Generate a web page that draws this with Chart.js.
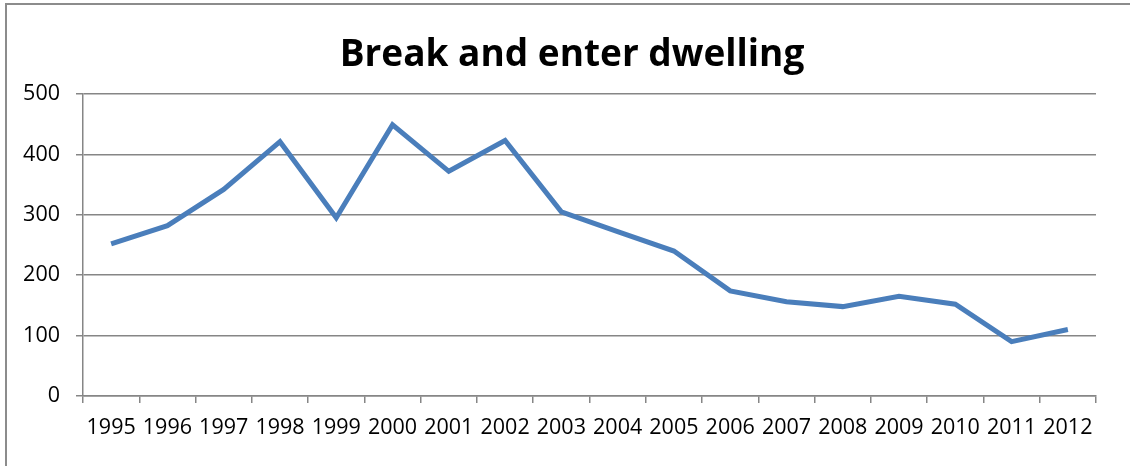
<!DOCTYPE html>
<html>
<head>
<meta charset="utf-8">
<script src="https://cdn.jsdelivr.net/npm/chart.js@4/dist/chart.umd.min.js"></script>
<style>
  body { margin: 0; background: #fff; }
  #frame {
    position: absolute; left: 5px; top: 3px; right: 0; bottom: 0;
    border-left: 2px solid #8c8c8c; border-top: 2px solid #8c8c8c;
  }
  #wrap { position: absolute; left: 0; top: 0; width: 1130px; height: 466px; }
</style>
</head>
<body>
<div id="frame"></div>
<div id="wrap"><canvas id="chart" width="1130" height="466"></canvas></div>
<script>
// values
const years = ["1995", "1996", "1997", "1998", "1999", "2000", "2001", "2002", "2003",
    "2004", "2005", "2006", "2007", "2008", "2009", "2010", "2011", "2012"];
const breakEnter = [252, 282, 342, 421, 295, 449, 372, 423, 305,
    272, 240, 174, 156, 148, 165, 152, 90, 110];
const yTicks = [0, 100, 200, 300, 400, 500];
const chartTitle = "Break and enter dwelling";

const gridGray = "#868686";
const lineBlue = "rgb(74, 126, 187)";

// the reference title sits a bit right of the canvas centre
const titleShift = {
    id: 'titleShift',
    afterLayout(chart) {
        if (chart.titleBlock) {
            chart.titleBlock.left += 48;
        }
    }
};

new Chart("chart", {
    type: 'line',
    data: {
        labels: years,
        datasets: [{
            label: chartTitle,
            data: breakEnter,
            borderColor: lineBlue,
            backgroundColor: lineBlue,
            borderWidth: 5,
            pointRadius: 0,
            tension: 0,
            borderJoinStyle: 'miter'
        }]
    },
    plugins: [titleShift],
    options: {
        responsive: false,
        animation: { duration: 0 },
        layout: { padding: { left: 0, right: 34, top: 0, bottom: 0 } },
        plugins: {
            legend: { display: false },
            tooltip: { enabled: false },
            title: {
                display: true,
                text: chartTitle,
                color: "#000",
                font: { family: "'Open Sans'", size: 37, weight: 'bold', lineHeight: 1.2 },
                padding: { top: 33, bottom: 16.6 }
            }
        },
        scales: {
            x: {
                offset: true,
                grid: {
                    offset: true,
                    drawOnChartArea: false,
                    color: gridGray,
                    tickLength: 7,
                    lineWidth: 1.5
                },
                border: { color: gridGray, width: 1.5 },
                ticks: {
                    color: "#000",
                    font: { family: "'Open Sans'", size: 21.5 },
                    padding: 12,
                    maxRotation: 0,
                    autoSkip: false
                },
                afterFit: function (scale) { scale.height = 70; }
            },
            y: {
                min: 0,
                max: 500,
                afterBuildTicks: function (scale) {
                    scale.ticks = yTicks.map(v => ({ value: v }));
                },
                grid: {
                    color: gridGray,
                    tickLength: 7,
                    lineWidth: 1.5
                },
                border: { color: gridGray, width: 1.5 },
                ticks: {
                    color: "#000",
                    font: { family: "'Open Sans'", size: 21.5 },
                    padding: 16
                },
                afterFit: function (scale) { scale.width = 83; }
            }
        }
    }
});
</script>
</body>
</html>
